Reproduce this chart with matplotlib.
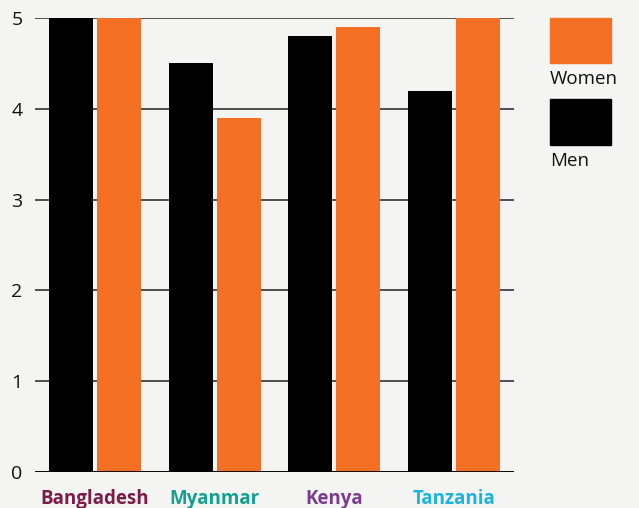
import matplotlib.pyplot as plt
import numpy as np

plt.rcParams['font.family'] = ['Open Sans', 'DejaVu Sans']

countries = ['Bangladesh', 'Myanmar', 'Kenya', 'Tanzania']
label_colors = ['#7a1d47', '#12a08f', '#7b3e8f', '#1bb3df']
men = [5.0, 4.5, 4.8, 4.2]
women = [5.0, 3.9, 4.9, 5.0]

bg = '#f4f4f2'
orange = '#f47024'

fig = plt.figure(figsize=(6.39, 5.08), dpi=100, facecolor=bg)
ax = fig.add_axes([35 / 639, 36 / 508, 479 / 639, 454 / 508], facecolor=bg)

x = np.arange(len(countries))
w = 0.367
ax.bar(x - 0.017 - w / 2, men, w, color='black', zorder=3)
ax.bar(x + 0.017 + w / 2, women, w, color=orange, zorder=3)

ax.set_xlim(-0.5, 3.5)
ax.set_ylim(0, 5)
ax.set_yticks(range(6))
ax.yaxis.grid(True, color='#222222', linewidth=1.1, zorder=1)
ax.axhline(0, color='black', linewidth=2, zorder=4)
for s in ax.spines.values():
    s.set_visible(False)
ax.tick_params(axis='y', length=0, pad=9, labelsize=14, colors='#111111')
ax.set_xticks(x)
ax.set_xticklabels(countries, fontsize=13.5, fontweight='bold')
ax.tick_params(axis='x', length=0, pad=12)
for lbl, c in zip(ax.get_xticklabels(), label_colors):
    lbl.set_color(c)

# legend boxes drawn in figure space
fig.patches.append(plt.Rectangle((550 / 639, 1 - 63 / 508), 61 / 639, 45 / 508,
                                 transform=fig.transFigure, color=orange))
fig.text(550 / 639, 1 - 79 / 508, 'Women', fontsize=13.5, va='center', color='#111111')
fig.patches.append(plt.Rectangle((550 / 639, 1 - 145 / 508), 61 / 639, 46 / 508,
                                 transform=fig.transFigure, color='black'))
fig.text(550 / 639, 1 - 161 / 508, 'Men', fontsize=13.5, va='center', color='#111111')

fig.savefig('out.png', dpi=100, facecolor=bg)
